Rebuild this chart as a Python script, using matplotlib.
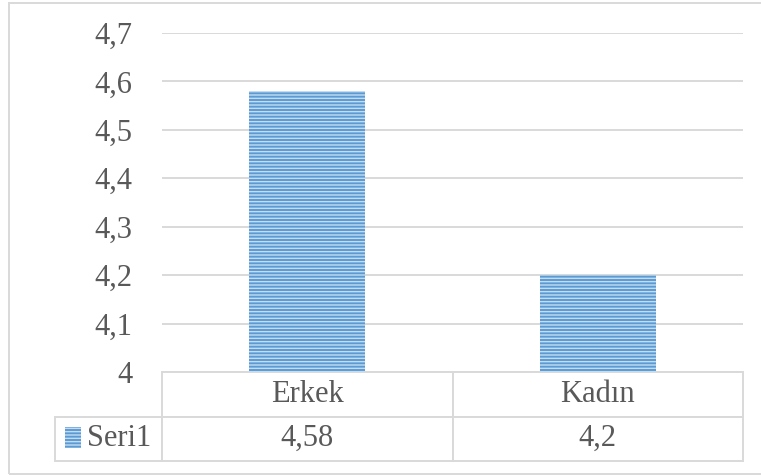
import numpy as np
import matplotlib.pyplot as plt
from matplotlib.patches import Rectangle

categories = ['Erkek', 'Kadın']
values = [4.58, 4.2]
series_name = 'Seri1'
yticks = [4.0, 4.1, 4.2, 4.3, 4.4, 4.5, 4.6, 4.7]

plt.rcParams['font.family'] = ['Liberation Serif', 'DejaVu Serif']
plt.rcParams['hatch.linewidth'] = 1.0

text_col = '#595959'
grid_col = '#D9D9D9'
bar_col = '#5B9BD5'
stripe_col = '#C5DCF0'

fig = plt.figure(figsize=(7.61, 4.75), dpi=100)
ax = fig.add_axes([162 / 761, 1 - 372 / 475, 581 / 761, 339 / 475])

x = np.arange(len(categories))
ax.bar(x, values, width=0.4, color=bar_col, edgecolor=stripe_col,
       linewidth=0, hatch='-----', zorder=3)

ax.set_xlim(-0.5, len(categories) - 0.5)
ax.set_ylim(yticks[0], yticks[-1])
ax.set_yticks(yticks)
labels = []
for v in yticks:
    s = f'{v:.1f}'.replace('.', ',')
    if s.endswith(',0'):
        s = s[:-2]
    labels.append(s)
ax.set_yticklabels(labels, fontsize=22, color=text_col)
ax.tick_params(axis='y', length=0, pad=21.5)
ax.set_xticks([])
ax.grid(axis='y', color=grid_col, linewidth=1.4, zorder=0)
for sp in ax.spines.values():
    sp.set_visible(False)

# data table under the plot (bbox covers the value columns only)
row_h = 44.5 / 339
tbl = ax.table(cellText=[[str(v).replace('.', ',') for v in values]],
               rowLabels=[series_name], colLabels=categories,
               cellLoc='center', rowLoc='right',
               bbox=[0, -2 * row_h, 1, 2 * row_h])
tbl._autoColumns = []
tbl.auto_set_font_size(False)
tbl.set_fontsize(22)
for (r, c), cell in tbl.get_celld().items():
    cell.set_edgecolor(grid_col)
    cell.set_linewidth(1.4)
    cell.set_width(107 / 581 if c == -1 else 1 / len(categories))
    cell.set_height(row_h)
    cell.get_text().set_color(text_col)

# legend key inside the row label cell
ax.add_patch(Rectangle((-97 / 581, -76 / 339), 16 / 581, 21 / 339,
                       transform=ax.transAxes, clip_on=False,
                       facecolor=bar_col, edgecolor=stripe_col,
                       linewidth=0, hatch='-----'))

# chart frame
fig.patches.append(Rectangle((9 / 761, 1 / 475), 1, 471 / 475,
                             transform=fig.transFigure, fill=False,
                             edgecolor=grid_col, linewidth=1.4))

fig.savefig('out.png', dpi=100)
